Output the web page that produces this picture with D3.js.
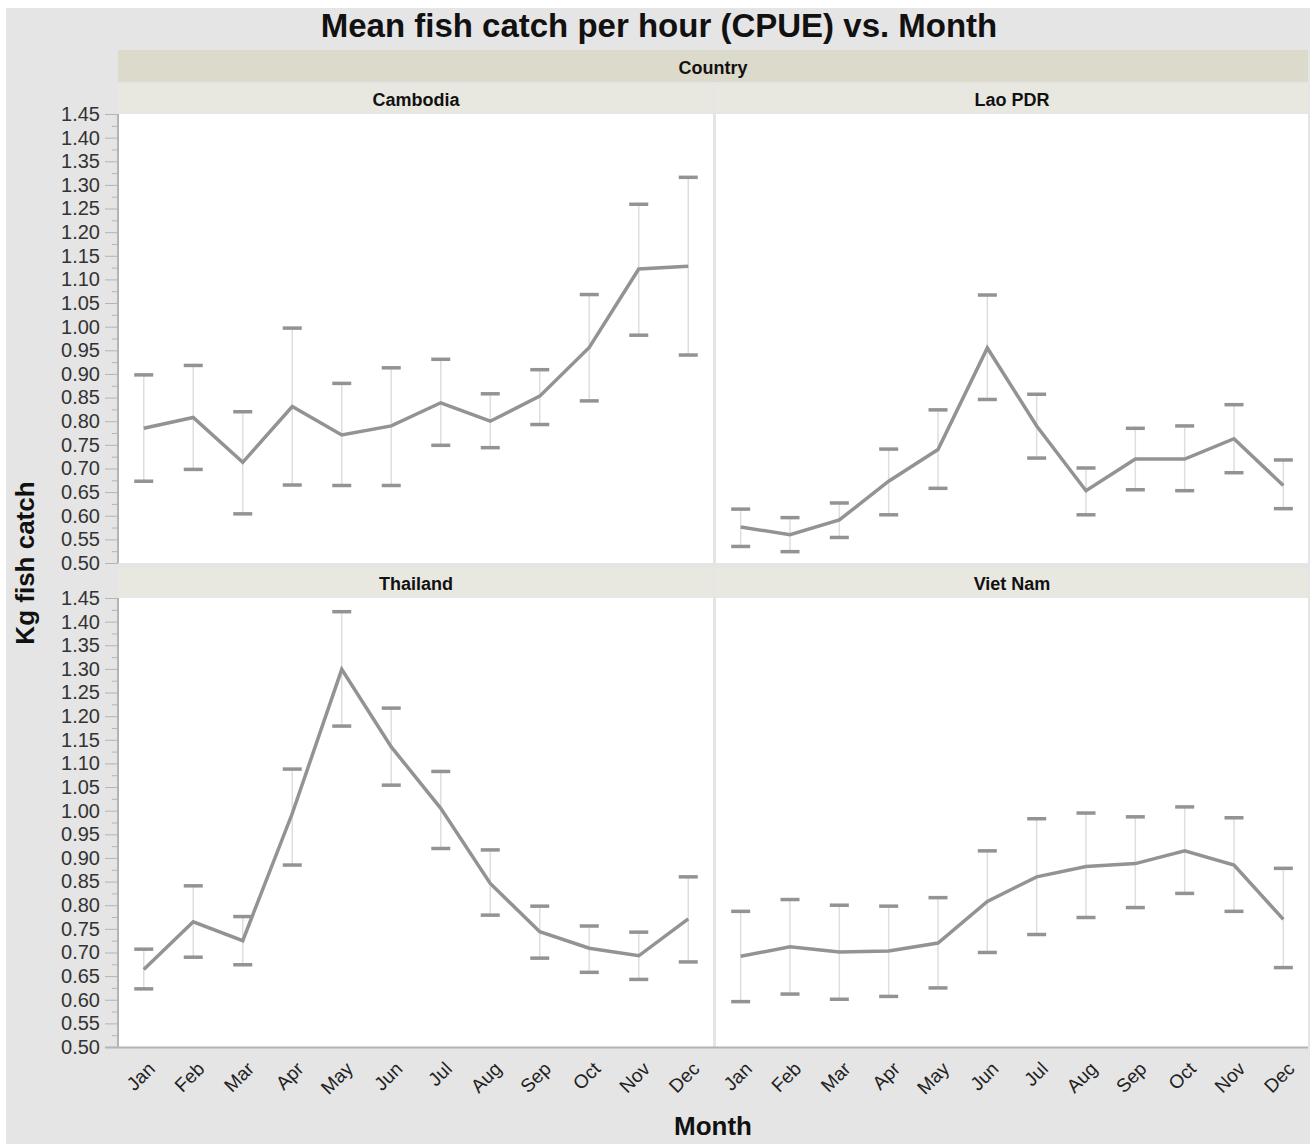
<!DOCTYPE html>
<html>
<head>
<meta charset="utf-8">
<script src="https://cdn.jsdelivr.net/npm/d3@7"></script>
<style>
  body { margin: 0; background: #fff; }
  text { font-family: "Liberation Sans", Arial, Helvetica, sans-serif; }
</style>
</head>
<body>
<div id="chart"></div>
<script>
const months = ["Jan", "Feb", "Mar", "Apr", "May", "Jun", "Jul", "Aug", "Sep", "Oct", "Nov", "Dec"]
const countries = ["Cambodia", "Lao PDR", "Thailand", "Viet Nam"]

// mean CPUE and error bar ends, per country
const cambodiaMean  = [0.785, 0.808, 0.713, 0.831, 0.771, 0.790, 0.839, 0.800, 0.853, 0.956, 1.122, 1.128]
const cambodiaUpper = [0.898, 0.918, 0.820, 0.997, 0.880, 0.913, 0.931, 0.858, 0.909, 1.068, 1.259, 1.316]
const cambodiaLower = [0.673, 0.698, 0.604, 0.665, 0.664, 0.664, 0.749, 0.744, 0.793, 0.843, 0.982, 0.940]

const laoMean  = [0.576, 0.560, 0.591, 0.673, 0.740, 0.955, 0.790, 0.653, 0.720, 0.720, 0.763, 0.664]
const laoUpper = [0.614, 0.596, 0.627, 0.741, 0.824, 1.067, 0.857, 0.701, 0.785, 0.790, 0.835, 0.718]
const laoLower = [0.535, 0.524, 0.554, 0.602, 0.658, 0.846, 0.722, 0.602, 0.655, 0.653, 0.691, 0.615]

const thaiMean  = [0.664, 0.765, 0.725, 0.994, 1.299, 1.135, 1.005, 0.846, 0.744, 0.709, 0.693, 0.771]
const thaiUpper = [0.707, 0.841, 0.776, 1.088, 1.421, 1.217, 1.083, 0.917, 0.798, 0.756, 0.743, 0.860]
const thaiLower = [0.623, 0.690, 0.674, 0.885, 1.179, 1.054, 0.920, 0.779, 0.688, 0.658, 0.643, 0.680]

const vietMean  = [0.692, 0.712, 0.701, 0.703, 0.720, 0.808, 0.860, 0.882, 0.888, 0.915, 0.885, 0.770]
const vietUpper = [0.787, 0.812, 0.800, 0.798, 0.816, 0.915, 0.983, 0.995, 0.987, 1.008, 0.985, 0.878]
const vietLower = [0.596, 0.612, 0.601, 0.607, 0.625, 0.700, 0.738, 0.774, 0.795, 0.825, 0.787, 0.668]

const yMin = 0.50, yMax = 1.45
const yTicks = d3.range(0, 20).map(i => +(yMin + i * 0.05).toFixed(2))
const yMinor = d3.range(0, 19).map(i => +(yMin + 0.025 + i * 0.05).toFixed(3))

const series = [
    { name: countries[0], mean: cambodiaMean, hi: cambodiaUpper, lo: cambodiaLower, col: 0, row: 0 },
    { name: countries[1], mean: laoMean, hi: laoUpper, lo: laoLower, col: 1, row: 0 },
    { name: countries[2], mean: thaiMean, hi: thaiUpper, lo: thaiLower, col: 0, row: 1 },
    { name: countries[3], mean: vietMean, hi: vietUpper, lo: vietLower, col: 1, row: 1 }
]

const WIDTH = 1314, HEIGHT = 1144
const COLS = [[119, 713], [716, 1308]]
const ROWS = [[114, 563], [598, 1047]]
const AXIS_COLOR = "#b4b4b4"
const MARK = "#939393"

const svg = d3.select("#chart").append("svg")
    .attr("width", WIDTH)
    .attr("height", HEIGHT)

svg.append("rect")
    .attr("x", 6).attr("y", 8)
    .attr("width", 1304).attr("height", 1136)
    .attr("fill", "#e5e5e5")

svg.append("text")
    .attr("x", 659).attr("y", 37)
    .attr("text-anchor", "middle")
    .attr("font-size", 33).attr("font-weight", "bold")
    .attr("fill", "#111")
    .text("Mean fish catch per hour (CPUE) vs. Month")

// outer facet header
svg.append("rect")
    .attr("x", 118).attr("y", 50)
    .attr("width", 1308 - 118).attr("height", 32)
    .attr("fill", "#dcdacb")
svg.append("text")
    .attr("x", 713).attr("y", 74)
    .attr("text-anchor", "middle")
    .attr("font-size", 18).attr("font-weight", "bold")
    .attr("fill", "#111")
    .text("Country")

const yFmt = d3.format(".2f")

series.forEach(s => {
    const [x0, x1] = COLS[s.col]
    const [y0, y1] = ROWS[s.row]

    const x = d3.scalePoint().domain(months).range([x0, x1]).padding(0.5)
    const y = d3.scaleLinear().domain([yMin, yMax]).range([y1, y0])

    // panel header
    svg.append("rect")
        .attr("x", x0 - 1).attr("y", y0 - 30)
        .attr("width", x1 - x0 + 1).attr("height", 29)
        .attr("fill", "#e8e8e0")
    svg.append("text")
        .attr("x", (x0 + x1) / 2).attr("y", y0 - 8)
        .attr("text-anchor", "middle")
        .attr("font-size", 18).attr("font-weight", "bold")
        .attr("fill", "#111")
        .text(s.name)

    svg.append("rect")
        .attr("x", x0).attr("y", y0)
        .attr("width", x1 - x0).attr("height", y1 - y0)
        .attr("fill", "#fff")

    // y axis only on the left column
    if (s.col === 0) {
        const minorG = svg.append("g")
            .attr("transform", `translate(${x0 - 1}, 0)`)
            .call(d3.axisLeft(y).tickValues(yMinor).tickSize(6).tickFormat(""))
        minorG.select(".domain").remove()
        minorG.selectAll("line").attr("stroke", AXIS_COLOR)

        const majorG = svg.append("g")
            .attr("transform", `translate(${x0 - 1}, 0)`)
            .call(d3.axisLeft(y).tickValues(yTicks).tickSize(13).tickPadding(5).tickFormat(yFmt))
        majorG.select(".domain").remove()
        majorG.selectAll("line").attr("stroke", AXIS_COLOR)
        majorG.selectAll("text")
            .attr("font-size", 20)
            .attr("font-family", "Liberation Sans, Arial, sans-serif")
            .attr("fill", "#333")

        svg.append("line")
            .attr("x1", x0 - 1).attr("x2", x0 - 1)
            .attr("y1", y0).attr("y2", y1)
            .attr("stroke", AXIS_COLOR).attr("stroke-width", 2)
    }

    // month labels along the bottom row
    if (s.row === 1) {
        const xg = svg.append("g")
            .attr("transform", `translate(0, ${y1})`)
            .call(d3.axisBottom(x).tickSize(0))
        xg.select(".domain").remove()
        xg.selectAll("text")
            .attr("font-size", 19)
            .attr("font-family", "Liberation Sans, Arial, sans-serif")
            .attr("fill", "#222")
            .attr("text-anchor", "end")
            .attr("x", 0).attr("y", 0).attr("dy", 0)
            .attr("transform", "translate(12, 23) rotate(-45)")
    }

    const idx = d3.range(months.length)

    // whiskers
    svg.append("g").selectAll("line")
        .data(idx)
        .join("line")
        .attr("x1", i => x(months[i])).attr("x2", i => x(months[i]))
        .attr("y1", i => y(s.hi[i])).attr("y2", i => y(s.lo[i]))
        .attr("stroke", "#dedede").attr("stroke-width", 1.5)

    const line = d3.line()
        .x(i => x(months[i]))
        .y(i => y(s.mean[i]))

    svg.append("path")
        .datum(idx)
        .attr("d", line)
        .attr("fill", "none")
        .attr("stroke", MARK)
        .attr("stroke-width", 3.5)

    // caps
    const caps = idx.flatMap(i => [{ i, v: s.hi[i] }, { i, v: s.lo[i] }])
    svg.append("g").selectAll("line")
        .data(caps)
        .join("line")
        .attr("x1", d => x(months[d.i]) - 9.5).attr("x2", d => x(months[d.i]) + 9.5)
        .attr("y1", d => y(d.v)).attr("y2", d => y(d.v))
        .attr("stroke", MARK).attr("stroke-width", 3.5)
})

// bottom axis rule across both columns
svg.append("line")
    .attr("x1", 105).attr("x2", 1308)
    .attr("y1", 1047.5).attr("y2", 1047.5)
    .attr("stroke", AXIS_COLOR).attr("stroke-width", 2)

svg.append("text")
    .attr("x", 713).attr("y", 1135)
    .attr("text-anchor", "middle")
    .attr("font-size", 26).attr("font-weight", "bold")
    .attr("fill", "#111")
    .text("Month")

svg.append("text")
    .attr("transform", "translate(34, 563) rotate(-90)")
    .attr("text-anchor", "middle")
    .attr("font-size", 26).attr("font-weight", "bold")
    .attr("fill", "#111")
    .text("Kg fish catch")
</script>
</body>
</html>
